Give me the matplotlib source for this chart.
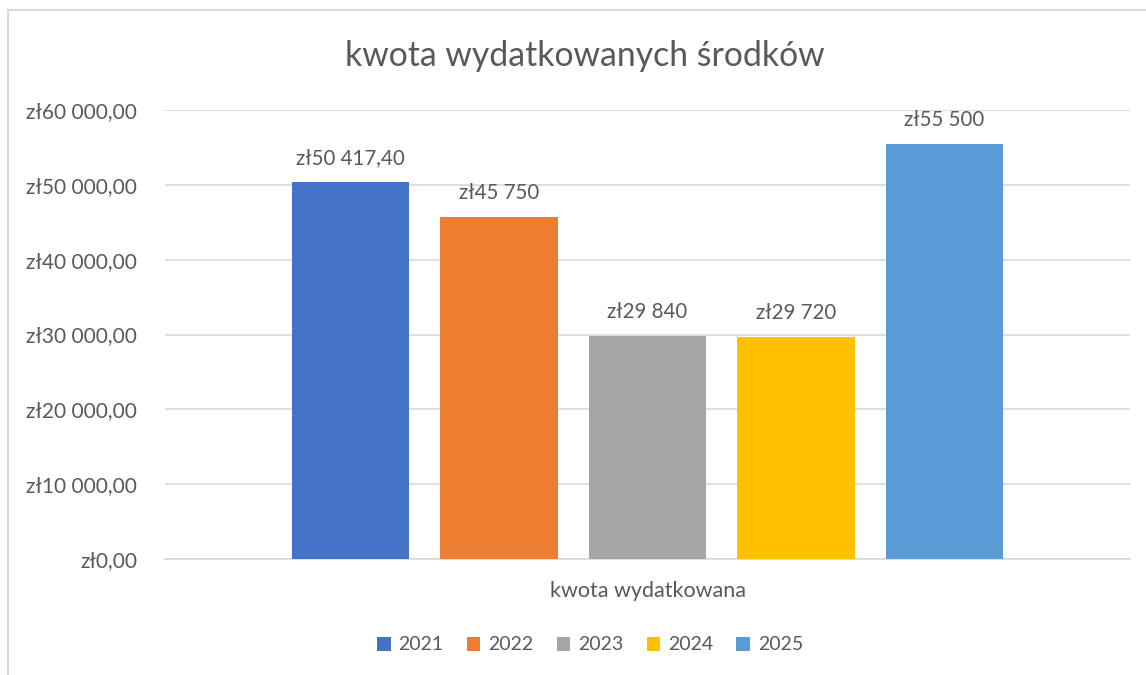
import matplotlib.pyplot as plt
from matplotlib.patches import Rectangle

years = ['2021', '2022', '2023', '2024', '2025']
values = [50417.40, 45750, 29840, 29720, 55500]
labels = ['zł50 417,40', 'zł45 750', 'zł29 840', 'zł29 720', 'zł55 500']
colors = ['#4472C4', '#ED7D31', '#A5A5A5', '#FFC000', '#5B9BD5']
yticks = [0, 10000, 20000, 30000, 40000, 50000, 60000]
ytick_labels = ['zł0,00', 'zł10 000,00', 'zł20 000,00', 'zł30 000,00',
                'zł40 000,00', 'zł50 000,00', 'zł60 000,00']
category = 'kwota wydatkowana'
title = 'kwota wydatkowanych środków'

plt.rcParams['font.family'] = ['Lato', 'DejaVu Sans']
txt = '#595959'

W, H = 1146, 675
fig = plt.figure(figsize=(W / 100, H / 100), dpi=100)

# chart area frame (cut off at right and bottom)
fig.patches.append(Rectangle((8 / W, -0.1), 1.2, 1 - 10 / H + 0.1, transform=fig.transFigure,
                             fill=False, edgecolor='#d9d9d9', linewidth=1.5))

ax = fig.add_axes([165 / W, 1 - 559 / H, (1130 - 165) / W, (559 - 110) / H])
bars = ax.bar(range(len(years)), values, width=0.79, color=colors, label=years, zorder=3)
ax.set_xlim(-1.249, 5.249)
ax.set_ylim(0, 60000)
ax.set_yticks(yticks)
ax.set_yticklabels(ytick_labels)
ax.grid(axis='y', color='#d9d9d9', linewidth=1.2, zorder=0)
for s in ['top', 'right', 'left']:
    ax.spines[s].set_visible(False)
ax.spines['bottom'].set_color('#d9d9d9')
ax.spines['bottom'].set_linewidth(1.2)
ax.tick_params(axis='y', length=0, pad=20, labelsize=15, labelcolor=txt)
ax.set_xticks([])

for b, lab in zip(bars, labels):
    ax.annotate(lab, (b.get_x() + b.get_width() / 2, b.get_height()), xytext=(0, 17),
                textcoords='offset points', ha='center', va='center', fontsize=14.8, color=txt)

fig.text(585 / W, 1 - 56 / H, title, ha='center', va='center', fontsize=24.3, color=txt)
fig.text(648 / W, 1 - 591 / H, category, ha='center', va='center', fontsize=15.5, color=txt)

fig.legend(handles=bars, labels=years, loc='center', bbox_to_anchor=(590 / W, 1 - 645 / H),
           ncol=5, frameon=False, fontsize=14, labelcolor=txt, handlelength=0.7,
           handleheight=0.7, handletextpad=0.4, columnspacing=1.2)

fig.savefig('out.png', dpi=100)
